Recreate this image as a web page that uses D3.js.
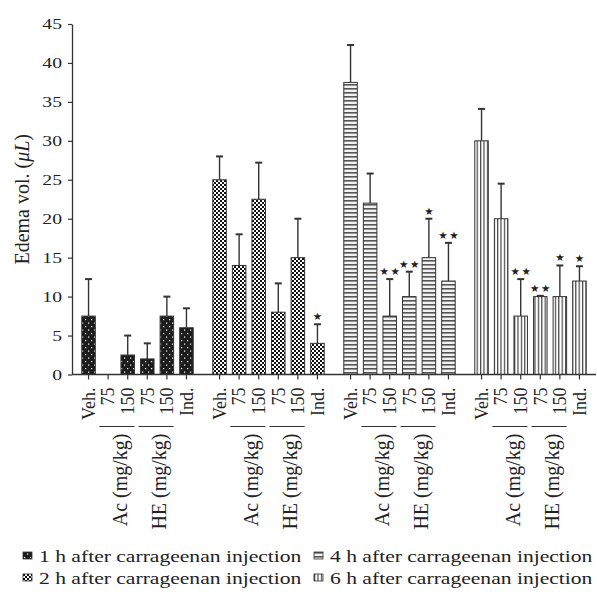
<!DOCTYPE html>
<html>
<head>
<meta charset="utf-8">
<script src="https://cdn.jsdelivr.net/npm/d3@7"></script>
<style>
  body { margin: 0; background: #fff; }
  text { font-family: "Liberation Serif", "Times New Roman", serif; fill: #222; }
</style>
</head>
<body>
<div id="chart"></div>
<script>
// time points after carrageenan injection
var groups = ["1h", "2h", "4h", "6h"];
var legendLabels = ["1 h after carrageenan injection", "2 h after carrageenan injection",
                    "4 h after carrageenan injection", "6 h after carrageenan injection"];

// treatments inside each time point
var doses = ["veh", "ac75", "ac150", "he75", "he150", "ind"];
var doseLabels = ["Veh.", "75", "150", "75", "150", "Ind."];

// mean edema volume (uL)
var mean1h = [7.5, 0, 2.5, 2, 7.5, 6];
var mean2h = [25, 14, 22.5, 8, 15, 4];
var mean4h = [37.5, 22, 7.5, 10, 15, 12];
var mean6h = [30, 20, 7.5, 10, 10, 12];

// upper error (SEM)
var sem1h = [4.75, 0, 2.5, 2, 2.5, 2.5];
var sem2h = [3, 4, 4.7, 3.7, 5, 2.45];
var sem4h = [4.8, 3.8, 4.75, 3.2, 5, 4.9];
var sem6h = [4.1, 4.5, 4.75, 0.1, 4, 1.9];

// number of significance stars
var stars1h = [0, 0, 0, 0, 0, 0];
var stars2h = [0, 0, 0, 0, 0, 1];
var stars4h = [0, 0, 2, 2, 1, 2];
var stars6h = [0, 0, 2, 2, 1, 1];

var yTicks = [0, 5, 10, 15, 20, 25, 30, 35, 40, 45];

var means = [mean1h, mean2h, mean4h, mean6h],
    sems = [sem1h, sem2h, sem4h, sem6h],
    stars = [stars1h, stars2h, stars4h, stars6h];

var data = [];
groups.forEach(function(g, i) {
  doses.forEach(function(d, j) {
    data.push({group: g, gi: i, dose: d, mean: means[i][j], sem: sems[i][j], stars: stars[i][j]});
  });
});

var margin = {top: 24, right: 1, bottom: 221.5, left: 72},
    width = 597 - margin.left - margin.right,
    height = 596 - margin.top - margin.bottom;

// the original figure is a little stretched sideways
var stretch = 1.27;

var svg = d3.select("#chart").append("svg")
    .attr("width", 597)
    .attr("height", 596);

// fill patterns, one per time point
var defs = svg.append("defs");

var p1 = defs.append("pattern").attr("id", "pat0").attr("patternUnits", "userSpaceOnUse")
    .attr("width", 6).attr("height", 7);
p1.append("rect").attr("width", 6).attr("height", 7).attr("fill", "#1c1c1c");
p1.append("rect").attr("x", 1).attr("y", 1).attr("width", 1.2).attr("height", 1.2).attr("fill", "#fff");
p1.append("rect").attr("x", 4).attr("y", 4.5).attr("width", 1.2).attr("height", 1.2).attr("fill", "#fff");

var p2 = defs.append("pattern").attr("id", "pat1").attr("patternUnits", "userSpaceOnUse")
    .attr("width", 4).attr("height", 4);
p2.append("rect").attr("width", 4).attr("height", 4).attr("fill", "#fff");
p2.append("rect").attr("width", 2).attr("height", 2).attr("fill", "#111");
p2.append("rect").attr("x", 2).attr("y", 2).attr("width", 2).attr("height", 2).attr("fill", "#111");

var p3 = defs.append("pattern").attr("id", "pat2").attr("patternUnits", "userSpaceOnUse")
    .attr("width", 4).attr("height", 4);
p3.append("rect").attr("width", 4).attr("height", 4).attr("fill", "#f2f2f2");
p3.append("rect").attr("width", 4).attr("height", 1.6).attr("fill", "#555");

var p4 = defs.append("pattern").attr("id", "pat3").attr("patternUnits", "userSpaceOnUse")
    .attr("width", 3.4).attr("height", 4);
p4.append("rect").attr("width", 3.4).attr("height", 4).attr("fill", "#fff");
p4.append("rect").attr("width", 1.2).attr("height", 4).attr("fill", "#444");

var g = svg.append("g").attr("transform", "translate(" + margin.left + "," + margin.top + ")");

var x0 = d3.scaleBand()
    .domain(groups)
    .range([0, width]);

var x1 = d3.scaleBand()
    .domain(doses)
    .range([0, x0.bandwidth()])
    .paddingInner(0.31)
    .paddingOuter(0.5);

var y = d3.scaleLinear()
    .domain([0, 45])
    .range([height, 0]);

function cx(d) { return x0(d.group) + x1(d.dose) + x1.bandwidth() / 2; }

// bars
var shown = data.filter(function(d) { return d.mean > 0; });

g.append("g")
  .selectAll("rect")
  .data(shown)
  .enter().append("rect")
    .attr("x", function(d) { return x0(d.group) + x1(d.dose); })
    .attr("y", function(d) { return y(d.mean); })
    .attr("width", x1.bandwidth())
    .attr("height", function(d) { return height - y(d.mean); })
    .attr("fill", function(d) { return "url(#pat" + d.gi + ")"; })
    .attr("stroke", "#333")
    .attr("stroke-width", 1);

// error bars (upper only)
var err = g.append("g").attr("stroke", "#333");

err.selectAll("line.v")
  .data(shown)
  .enter().append("line")
    .attr("class", "v")
    .attr("x1", cx).attr("x2", cx)
    .attr("y1", function(d) { return y(d.mean); })
    .attr("y2", function(d) { return y(d.mean + d.sem); })
    .attr("stroke-width", 1.4);

err.selectAll("line.cap")
  .data(shown)
  .enter().append("line")
    .attr("class", "cap")
    .attr("x1", function(d) { return cx(d) - 3.5; })
    .attr("x2", function(d) { return cx(d) + 3.5; })
    .attr("y1", function(d) { return y(d.mean + d.sem); })
    .attr("y2", function(d) { return y(d.mean + d.sem); })
    .attr("stroke-width", 2);

// significance stars
var starData = [];
shown.forEach(function(d) {
  for (var k = 0; k < d.stars; k++) {
    starData.push({x: cx(d) + (k - (d.stars - 1) / 2) * 11, y: y(d.mean + d.sem) - 4});
  }
});

g.append("g")
  .selectAll("text")
  .data(starData)
  .enter().append("text")
    .attr("x", function(d) { return d.x; })
    .attr("y", function(d) { return d.y; })
    .attr("text-anchor", "middle")
    .style("font-family", "DejaVu Sans")
    .style("font-size", "10.5px")
    .text("\u2605");

// y axis
var yAxis = g.append("g")
    .call(d3.axisLeft(y).tickValues(yTicks).tickSize(4).tickSizeOuter(0).tickPadding(6));
yAxis.select(".domain").attr("stroke", "#333").attr("stroke-width", 1.3);
yAxis.selectAll(".tick line").attr("stroke", "#333").attr("stroke-width", 1.2);
yAxis.selectAll("text")
    .attr("x", -10 / stretch)
    .attr("transform", "scale(" + stretch + ",1)")
    .attr("fill", "#222")
    .style("font-size", "15.5px");

g.append("text")
    .attr("transform", "translate(" + (22 - margin.left) + "," + (height / 2) + ") rotate(-90)")
    .attr("text-anchor", "middle")
    .attr("dy", "0.35em")
    .style("font-size", "20px")
    .text("Edema vol. (")
  .append("tspan")
    .style("font-style", "italic")
    .text("\u03bcL")
  .select(function() { return this.parentNode; })
  .append("tspan")
    .text(")");

// x axis line
g.append("line")
    .attr("x1", 0).attr("x2", width)
    .attr("y1", height).attr("y2", height)
    .attr("stroke", "#333")
    .attr("stroke-width", 1.3);

// per-group ticks and labels
groups.forEach(function(grp) {
  var ax = g.append("g")
      .attr("transform", "translate(" + x0(grp) + "," + height + ")")
      .call(d3.axisBottom(x1).tickSize(5).tickFormat(function(d, i) { return doseLabels[i]; }));
  ax.select(".domain").remove();
  ax.selectAll(".tick line").attr("stroke", "#333").attr("stroke-width", 1.2);
  ax.selectAll("text")
      .attr("transform", "rotate(-90)")
      .attr("x", -13)
      .attr("y", 0)
      .attr("dy", "0.35em")
      .attr("text-anchor", "end")
      .attr("fill", "#222")
      .style("font-size", "18px");

  // Ac and HE brackets
  [["ac75", "ac150", "Ac (mg/kg)"], ["he75", "he150", "HE (mg/kg)"]].forEach(function(b) {
    var xa = x0(grp) + x1(b[0]) - 2,
        xb = x0(grp) + x1(b[1]) + x1.bandwidth();
    g.append("line")
        .attr("x1", xa).attr("x2", xb)
        .attr("y1", height + 52).attr("y2", height + 52)
        .attr("stroke", "#333")
        .attr("stroke-width", 1.2);
    g.append("text")
        .attr("transform", "translate(" + ((xa + xb) / 2 + 3) + "," + (height + 59) + ") rotate(-90)")
        .attr("text-anchor", "end")
        .attr("dy", "0.35em")
        .style("font-size", "20px")
        .text(b[2]);
  });
});

// legend
var legend = svg.append("g")
  .selectAll("g")
  .data(legendLabels)
  .enter().append("g")
    .attr("transform", function(d, i) {
      return "translate(" + (i < 2 ? 23 : 314) + "," + (556 + (i % 2) * 22) + ")";
    });

legend.append("rect")
    .attr("x", 0)
    .attr("y", -4)
    .attr("width", 9)
    .attr("height", 7)
    .attr("fill", function(d, i) { return "url(#pat" + i + ")"; })
    .attr("stroke", "#333")
    .attr("stroke-width", 0.8);

legend.append("text")
    .attr("transform", "translate(16,0) scale(" + stretch + ",1)")
    .attr("dy", "0.35em")
    .style("font-size", "17px")
    .text(function(d) { return d; });
</script>
</body>
</html>
